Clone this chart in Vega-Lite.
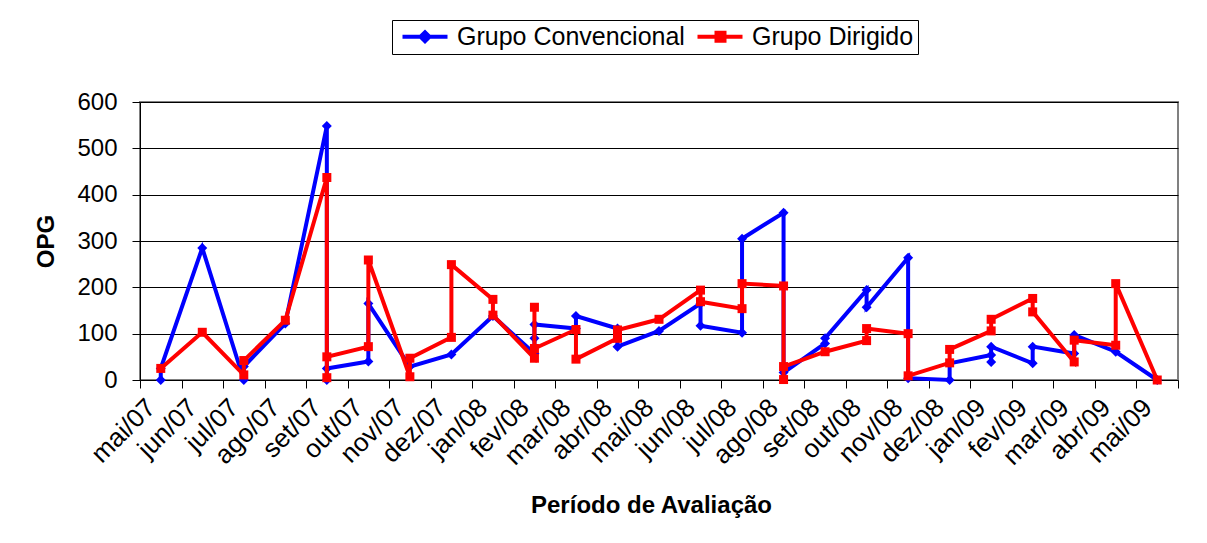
{
  "$schema": "https://vega.github.io/schema/vega-lite/v6.json",
  "width": 1038,
  "height": 278,
  "autosize": {"type": "none"},
  "padding": {"left": 140, "top": 102, "right": 29, "bottom": 163},
  "background": "white",
  "config": {
    "font": "Liberation Sans",
    "view": {"stroke": "#808080", "strokeWidth": 2}
  },
  "data": {
    "values": [
      {"g": "Grupo Convencional", "i": 1, "m": "mai/07", "v": 0},
      {"g": "Grupo Convencional", "i": 2, "m": "mai/07", "v": 25},
      {"g": "Grupo Convencional", "i": 3, "m": "jun/07", "v": 285},
      {"g": "Grupo Convencional", "i": 4, "m": "jul/07", "v": 0},
      {"g": "Grupo Convencional", "i": 5, "m": "jul/07", "v": 29},
      {"g": "Grupo Convencional", "i": 6, "m": "ago/07", "v": 122},
      {"g": "Grupo Convencional", "i": 7, "m": "set/07", "v": 548},
      {"g": "Grupo Convencional", "i": 8, "m": "set/07", "v": 0},
      {"g": "Grupo Convencional", "i": 9, "m": "set/07", "v": 25},
      {"g": "Grupo Convencional", "i": 10, "m": "out/07", "v": 40},
      {"g": "Grupo Convencional", "i": 11, "m": "out/07", "v": 165},
      {"g": "Grupo Convencional", "i": 12, "m": "nov/07", "v": 29},
      {"g": "Grupo Convencional", "i": 13, "m": "dez/07", "v": 55},
      {"g": "Grupo Convencional", "i": 14, "m": "jan/08", "v": 138},
      {"g": "Grupo Convencional", "i": 15, "m": "fev/08", "v": 57},
      {"g": "Grupo Convencional", "i": 16, "m": "fev/08", "v": 90},
      {"g": "Grupo Convencional", "i": 17, "m": "fev/08", "v": 120},
      {"g": "Grupo Convencional", "i": 18, "m": "mar/08", "v": 111},
      {"g": "Grupo Convencional", "i": 19, "m": "mar/08", "v": 138},
      {"g": "Grupo Convencional", "i": 20, "m": "abr/08", "v": 111},
      {"g": "Grupo Convencional", "i": 21, "m": "abr/08", "v": 72},
      {"g": "Grupo Convencional", "i": 22, "m": "mai/08", "v": 106},
      {"g": "Grupo Convencional", "i": 23, "m": "jun/08", "v": 165},
      {"g": "Grupo Convencional", "i": 24, "m": "jun/08", "v": 117},
      {"g": "Grupo Convencional", "i": 25, "m": "jul/08", "v": 102},
      {"g": "Grupo Convencional", "i": 26, "m": "jul/08", "v": 305},
      {"g": "Grupo Convencional", "i": 27, "m": "ago/08", "v": 361},
      {"g": "Grupo Convencional", "i": 28, "m": "ago/08", "v": 16},
      {"g": "Grupo Convencional", "i": 29, "m": "set/08", "v": 79},
      {"g": "Grupo Convencional", "i": 30, "m": "set/08", "v": 90},
      {"g": "Grupo Convencional", "i": 31, "m": "out/08", "v": 194},
      {"g": "Grupo Convencional", "i": 32, "m": "out/08", "v": 157},
      {"g": "Grupo Convencional", "i": 33, "m": "nov/08", "v": 264},
      {"g": "Grupo Convencional", "i": 34, "m": "nov/08", "v": 4},
      {"g": "Grupo Convencional", "i": 35, "m": "dez/08", "v": 0},
      {"g": "Grupo Convencional", "i": 36, "m": "dez/08", "v": 36},
      {"g": "Grupo Convencional", "i": 37, "m": "jan/09", "v": 54},
      {"g": "Grupo Convencional", "i": 38, "m": "jan/09", "v": 39},
      {"g": "Grupo Convencional", "i": 39, "m": "jan/09", "v": 72},
      {"g": "Grupo Convencional", "i": 40, "m": "fev/09", "v": 36},
      {"g": "Grupo Convencional", "i": 41, "m": "fev/09", "v": 72},
      {"g": "Grupo Convencional", "i": 42, "m": "mar/09", "v": 57},
      {"g": "Grupo Convencional", "i": 43, "m": "mar/09", "v": 97},
      {"g": "Grupo Convencional", "i": 44, "m": "abr/09", "v": 61},
      {"g": "Grupo Convencional", "i": 45, "m": "mai/09", "v": 0},
      {"g": "Grupo Dirigido", "i": 1, "m": "mai/07", "v": 25},
      {"g": "Grupo Dirigido", "i": 2, "m": "jun/07", "v": 103},
      {"g": "Grupo Dirigido", "i": 3, "m": "jul/07", "v": 11},
      {"g": "Grupo Dirigido", "i": 4, "m": "jul/07", "v": 42},
      {"g": "Grupo Dirigido", "i": 5, "m": "ago/07", "v": 129},
      {"g": "Grupo Dirigido", "i": 6, "m": "set/07", "v": 437},
      {"g": "Grupo Dirigido", "i": 7, "m": "set/07", "v": 5},
      {"g": "Grupo Dirigido", "i": 8, "m": "set/07", "v": 50},
      {"g": "Grupo Dirigido", "i": 9, "m": "out/07", "v": 72},
      {"g": "Grupo Dirigido", "i": 10, "m": "out/07", "v": 259},
      {"g": "Grupo Dirigido", "i": 11, "m": "nov/07", "v": 7},
      {"g": "Grupo Dirigido", "i": 12, "m": "nov/07", "v": 47},
      {"g": "Grupo Dirigido", "i": 13, "m": "dez/07", "v": 92},
      {"g": "Grupo Dirigido", "i": 14, "m": "dez/07", "v": 249},
      {"g": "Grupo Dirigido", "i": 15, "m": "jan/08", "v": 174},
      {"g": "Grupo Dirigido", "i": 16, "m": "jan/08", "v": 140},
      {"g": "Grupo Dirigido", "i": 17, "m": "fev/08", "v": 47},
      {"g": "Grupo Dirigido", "i": 18, "m": "fev/08", "v": 157},
      {"g": "Grupo Dirigido", "i": 19, "m": "fev/08", "v": 68},
      {"g": "Grupo Dirigido", "i": 20, "m": "mar/08", "v": 109},
      {"g": "Grupo Dirigido", "i": 21, "m": "mar/08", "v": 45},
      {"g": "Grupo Dirigido", "i": 22, "m": "abr/08", "v": 90},
      {"g": "Grupo Dirigido", "i": 23, "m": "abr/08", "v": 108},
      {"g": "Grupo Dirigido", "i": 24, "m": "mai/08", "v": 131},
      {"g": "Grupo Dirigido", "i": 25, "m": "jun/08", "v": 194},
      {"g": "Grupo Dirigido", "i": 26, "m": "jun/08", "v": 169},
      {"g": "Grupo Dirigido", "i": 27, "m": "jul/08", "v": 154},
      {"g": "Grupo Dirigido", "i": 28, "m": "jul/08", "v": 208},
      {"g": "Grupo Dirigido", "i": 29, "m": "ago/08", "v": 203},
      {"g": "Grupo Dirigido", "i": 30, "m": "ago/08", "v": 1},
      {"g": "Grupo Dirigido", "i": 31, "m": "ago/08", "v": 29},
      {"g": "Grupo Dirigido", "i": 32, "m": "set/08", "v": 61},
      {"g": "Grupo Dirigido", "i": 33, "m": "out/08", "v": 85},
      {"g": "Grupo Dirigido", "i": 34, "m": "out/08", "v": 111},
      {"g": "Grupo Dirigido", "i": 35, "m": "nov/08", "v": 100},
      {"g": "Grupo Dirigido", "i": 36, "m": "nov/08", "v": 9},
      {"g": "Grupo Dirigido", "i": 37, "m": "dez/08", "v": 37},
      {"g": "Grupo Dirigido", "i": 38, "m": "dez/08", "v": 66},
      {"g": "Grupo Dirigido", "i": 39, "m": "jan/09", "v": 106},
      {"g": "Grupo Dirigido", "i": 40, "m": "jan/09", "v": 131},
      {"g": "Grupo Dirigido", "i": 41, "m": "fev/09", "v": 176},
      {"g": "Grupo Dirigido", "i": 42, "m": "fev/09", "v": 147},
      {"g": "Grupo Dirigido", "i": 43, "m": "mar/09", "v": 39},
      {"g": "Grupo Dirigido", "i": 44, "m": "mar/09", "v": 86},
      {"g": "Grupo Dirigido", "i": 45, "m": "abr/09", "v": 75},
      {"g": "Grupo Dirigido", "i": 46, "m": "abr/09", "v": 208},
      {"g": "Grupo Dirigido", "i": 47, "m": "mai/09", "v": 0}
    ]
  },
  "encoding": {
    "x": {
      "field": "m",
      "type": "ordinal",
      "sort": ["mai/07", "jun/07", "jul/07", "ago/07", "set/07", "out/07", "nov/07", "dez/07", "jan/08", "fev/08", "mar/08", "abr/08", "mai/08", "jun/08", "jul/08", "ago/08", "set/08", "out/08", "nov/08", "dez/08", "jan/09", "fev/09", "mar/09", "abr/09", "mai/09"],
      "scale": {"type": "band", "paddingInner": 0, "paddingOuter": 0},
      "bandPosition": 0.5,
      "axis": {
        "title": "Período de Avaliação",
        "titleFontSize": 24,
        "titleFontWeight": "bold",
        "titleColor": "black",
        "titlePadding": 24,
        "titleX": 511,
        "labelAngle": -45,
        "labelAlign": "right",
        "labelBaseline": "middle",
        "labelFontSize": 26,
        "labelColor": "black",
        "labelPadding": 15,
        "labelOffset": -10,
        "labelOverlap": false,
        "labelBound": false,
        "tickBand": "extent",
        "tickSize": 8,
        "tickColor": "black",
        "domain": false,
        "grid": false
      }
    },
    "y": {
      "field": "v",
      "type": "quantitative",
      "scale": {"domain": [0, 600], "nice": false},
      "axis": {
        "title": "OPG",
        "titleFontSize": 24,
        "titleFontWeight": "bold",
        "titleColor": "black",
        "titlePadding": 18,
        "values": [0, 100, 200, 300, 400, 500, 600],
        "labelFontSize": 24,
        "labelColor": "black",
        "labelPadding": 15,
        "tickSize": 8,
        "tickColor": "black",
        "domainColor": "black",
        "grid": true,
        "gridColor": "black",
        "gridWidth": 1
      }
    },
    "order": {"field": "i", "type": "quantitative"}
  },
  "layer": [
    {
      "transform": [{"filter": "datum.g === 'Grupo Convencional'"}],
      "mark": {"type": "line", "strokeWidth": 4},
      "encoding": {
        "color": {
          "field": "g",
          "type": "nominal",
          "scale": {"domain": ["Grupo Convencional", "Grupo Dirigido"], "range": ["#0000FF", "#FF0000"]},
          "legend": {
            "orient": "none",
            "legendX": 252,
            "legendY": -82,
            "direction": "horizontal",
            "title": null,
            "strokeColor": "black",
            "padding": 4,
            "labelFontSize": 25,
            "labelColor": "black",
            "labelLimit": 0,
            "labelOffset": 36,
            "columnPadding": 4,
            "symbolSize": 400,
            "symbolStrokeWidth": 4,
            "symbolType": "M-1,0H3.8",
            "encode": {
              "symbols": {
                "update": {
                  "shape": {"signal": "datum.value === 'Grupo Convencional' ? 'M-0.6,0H3.9M1.2,0L1.65,-0.45L2.1,0L1.65,0.45Z' : 'M-0.6,0H3.9M1.3,-0.4H2.1V0.4H1.3Z'"},
                  "fill": {"signal": "datum.value === 'Grupo Convencional' ? '#0000FF' : '#FF0000'"},
                  "strokeWidth": {"value": 4}
                }
              }
            }
          }
        }
      }
    },
    {
      "transform": [{"filter": "datum.g === 'Grupo Convencional'"}],
      "mark": {"type": "point", "shape": "diamond", "filled": true, "color": "#0000FF", "size": 100, "opacity": 1}
    },
    {
      "transform": [{"filter": "datum.g === 'Grupo Dirigido'"}],
      "mark": {"type": "line", "strokeWidth": 4},
      "encoding": {
        "color": {"field": "g", "type": "nominal"}
      }
    },
    {
      "transform": [{"filter": "datum.g === 'Grupo Dirigido'"}],
      "mark": {"type": "point", "shape": "square", "filled": true, "color": "#FF0000", "size": 81, "opacity": 1}
    }
  ]
}
